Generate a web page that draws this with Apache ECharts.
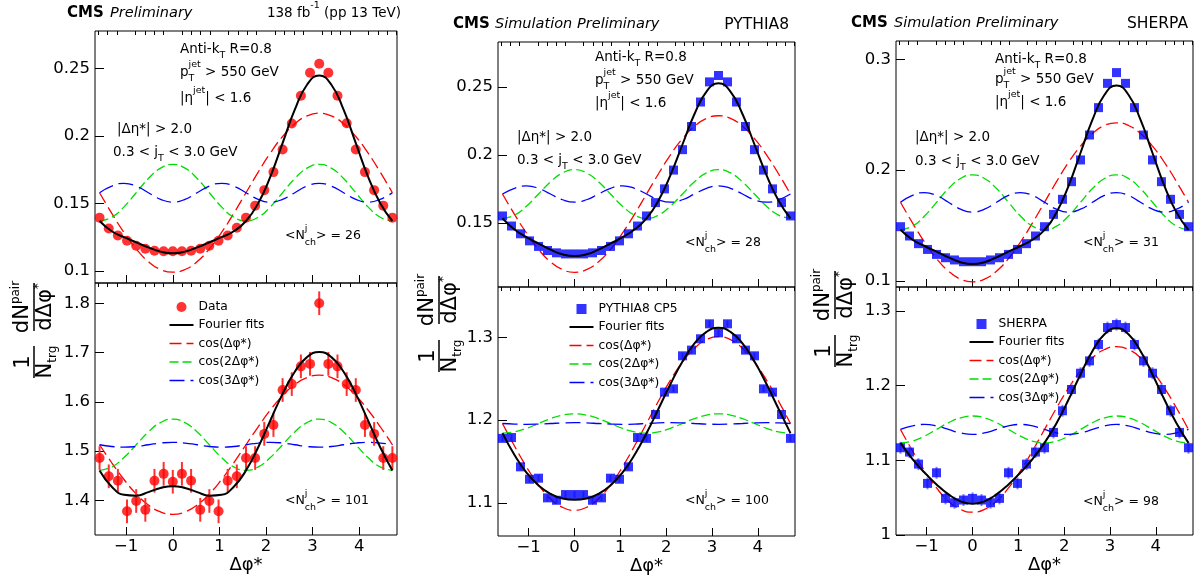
<!DOCTYPE html>
<html>
<head>
<meta charset="utf-8">
<script src="https://cdn.jsdelivr.net/npm/echarts@6/dist/echarts.min.js"></script>
<style>
html, body { margin: 0; padding: 0; background: #fff; }
#main { width: 1200px; height: 580px; }
</style>
</head>
<body>
<div id="main"></div>
<script>
var F = 'DejaVu Sans';

// bin centres k*pi/16, k = -8..24
var phiBins = [-1.571, -1.374, -1.178, -0.982, -0.785, -0.589, -0.393, -0.196, 0, 0.196, 0.393, 0.589, 0.785, 0.982, 1.178, 1.374, 1.571,
    1.767, 1.963, 2.160, 2.356, 2.553, 2.749, 2.945, 3.142, 3.338, 3.534, 3.731, 3.927, 4.123, 4.320, 4.516, 4.712];
// points where the fitted curves are read, k*pi/12, k = -6..18
var phiCurve = [-1.571, -1.309, -1.047, -0.785, -0.524, -0.262, 0, 0.262, 0.524, 0.785, 1.047, 1.309, 1.571,
    1.833, 2.094, 2.356, 2.618, 2.880, 3.142, 3.403, 3.665, 3.927, 4.189, 4.451, 4.712];

var xMajor = [-1, 0, 1, 2, 3, 4];
var xMinor = [-1.6, -1.4, -1.2, -0.8, -0.6, -0.4, -0.2, 0.2, 0.4, 0.6, 0.8, 1.2, 1.4, 1.6, 1.8, 2.2, 2.4, 2.6, 2.8, 3.2, 3.4, 3.6, 3.8, 4.2, 4.4, 4.6, 4.8];

// ---- Data, <N> = 26
var dataTopPts = [0.1395, 0.1315, 0.1263, 0.1223, 0.1186, 0.1164, 0.1149, 0.1146, 0.1146, 0.1146, 0.1149, 0.1164, 0.1186, 0.1223, 0.1263, 0.132, 0.1395,
    0.1484, 0.1599, 0.1733, 0.1901, 0.2093, 0.2299, 0.247, 0.2537, 0.247, 0.2299, 0.2095, 0.1901, 0.1733, 0.1599, 0.1484, 0.1395];
var dataTopFit = [0.137, 0.1294, 0.125, 0.1212, 0.1174, 0.1143, 0.113, 0.1143, 0.1174, 0.1212, 0.125, 0.1294, 0.137,
    0.1502, 0.170, 0.1948, 0.2196, 0.2381, 0.245, 0.2381, 0.2196, 0.1948, 0.170, 0.1502, 0.137];
var dataTopC1 = [0.158, 0.1427, 0.1285, 0.1163, 0.1069, 0.101, 0.099, 0.101, 0.1069, 0.1163, 0.1285, 0.1427, 0.158,
    0.1733, 0.1875, 0.1997, 0.2091, 0.215, 0.217, 0.215, 0.2091, 0.1997, 0.1875, 0.1733, 0.158];
var dataTopC2 = [0.137, 0.1398, 0.1475, 0.158, 0.1685, 0.1762, 0.179, 0.1762, 0.1685, 0.158, 0.1475, 0.1398, 0.137,
    0.1398, 0.1475, 0.158, 0.1685, 0.1762, 0.179, 0.1762, 0.1685, 0.158, 0.1475, 0.1398, 0.137];
var dataTopC3 = [0.158, 0.1629, 0.165, 0.1629, 0.158, 0.1531, 0.151, 0.1531, 0.158, 0.1629, 0.165, 0.1629, 0.158,
    0.1531, 0.151, 0.1531, 0.158, 0.1629, 0.165, 0.1629, 0.158, 0.1531, 0.151, 0.1531, 0.158];

// ---- Data, <N> = 101
var dataBotPts = [1.486, 1.449, 1.440, 1.378, 1.399, 1.381, 1.440, 1.454, 1.438, 1.454, 1.440, 1.381, 1.399, 1.378, 1.440, 1.449, 1.486,
    1.486, 1.535, 1.553, 1.624, 1.636, 1.672, 1.677, 1.800, 1.677, 1.672, 1.636, 1.624, 1.553, 1.535, 1.486, 1.486];
var dataBotErr = 0.024;
var dataBotFit = [1.461, 1.428, 1.4115, 1.4098, 1.4169, 1.4253, 1.429, 1.4253, 1.4169, 1.4098, 1.4115, 1.428, 1.461,
    1.508, 1.5625, 1.6162, 1.6611, 1.6907, 1.701, 1.6907, 1.6611, 1.6162, 1.5625, 1.508, 1.461];
var dataBotC1 = [1.513, 1.4765, 1.4425, 1.4133, 1.3909, 1.3768, 1.372, 1.3768, 1.3909, 1.4133, 1.4425, 1.4765, 1.513,
    1.5495, 1.5835, 1.6127, 1.6351, 1.6492, 1.654, 1.6492, 1.6351, 1.6127, 1.5835, 1.5495, 1.513];
var dataBotC2 = [1.461, 1.468, 1.487, 1.513, 1.539, 1.558, 1.565, 1.558, 1.539, 1.513, 1.487, 1.468, 1.461,
    1.468, 1.487, 1.513, 1.539, 1.558, 1.565, 1.558, 1.539, 1.513, 1.487, 1.468, 1.461];
var dataBotC3 = [1.513, 1.5095, 1.508, 1.5095, 1.513, 1.5165, 1.518, 1.5165, 1.513, 1.5095, 1.508, 1.5095, 1.513,
    1.5165, 1.518, 1.5165, 1.513, 1.5095, 1.508, 1.5095, 1.513, 1.5165, 1.518, 1.5165, 1.513];

// ---- PYTHIA8, <N> = 28
var pyTopPts = [0.1552, 0.1478, 0.1421, 0.1369, 0.1328, 0.1298, 0.1281, 0.1273, 0.1273, 0.1273, 0.1281, 0.1298, 0.1328, 0.1369, 0.1421, 0.1478, 0.1552,
    0.165, 0.1751, 0.1889, 0.2039, 0.2209, 0.2389, 0.2537, 0.2584, 0.2537, 0.2389, 0.2209, 0.2039, 0.1889, 0.1751, 0.165, 0.1552];
var pyTopFit = [0.1534, 0.1452, 0.1396, 0.1349, 0.1305, 0.127, 0.1257, 0.127, 0.1305, 0.1349, 0.1396, 0.1452, 0.1534,
    0.1666, 0.1852, 0.2077, 0.2301, 0.2466, 0.2527, 0.2466, 0.2301, 0.2077, 0.1852, 0.1666, 0.1534];
var pyTopC1 = [0.1713, 0.1564, 0.1426, 0.1307, 0.1215, 0.1158, 0.1138, 0.1158, 0.1215, 0.1307, 0.1426, 0.1564, 0.1713,
    0.1862, 0.2001, 0.212, 0.2211, 0.2269, 0.2288, 0.2269, 0.2211, 0.212, 0.2001, 0.1862, 0.1713];
var pyTopC2 = [0.1534, 0.1558, 0.1624, 0.1713, 0.1803, 0.1868, 0.1892, 0.1868, 0.1803, 0.1713, 0.1624, 0.1558, 0.1534,
    0.1558, 0.1624, 0.1713, 0.1803, 0.1868, 0.1892, 0.1868, 0.1803, 0.1713, 0.1624, 0.1558, 0.1534];
var pyTopC3 = [0.1713, 0.1755, 0.1773, 0.1755, 0.1713, 0.1671, 0.1653, 0.1671, 0.1713, 0.1755, 0.1773, 0.1755, 0.1713,
    0.1671, 0.1653, 0.1671, 0.1713, 0.1755, 0.1773, 0.1755, 0.1713, 0.1671, 0.1653, 0.1671, 0.1713];

// ---- PYTHIA8 CP5, <N> = 100
var pyBotPts = [1.178, 1.179, 1.1436, 1.1286, 1.1299, 1.1061, 1.1032, 1.1101, 1.1101, 1.1101, 1.1032, 1.1061, 1.1299, 1.1286, 1.1436, 1.179, 1.178,
    1.2069, 1.2339, 1.2379, 1.2778, 1.2847, 1.2984, 1.3165, 1.3056, 1.3165, 1.2984, 1.2847, 1.2778, 1.2379, 1.2339, 1.2069, 1.178];
var pyBotErr = 0.004;
var pyBotFit = [1.1843, 1.158, 1.1367, 1.1211, 1.111, 1.1054, 1.1037, 1.1054, 1.111, 1.1211, 1.1367, 1.158, 1.1843,
    1.2138, 1.2437, 1.2709, 1.2928, 1.3068, 1.3117, 1.3068, 1.2928, 1.2709, 1.2437, 1.2138, 1.1843];
var pyBotC1 = [1.196, 1.1688, 1.1435, 1.1218, 1.1051, 1.0946, 1.091, 1.0946, 1.1051, 1.1218, 1.1435, 1.1688, 1.196,
    1.2232, 1.2485, 1.2702, 1.2869, 1.2974, 1.301, 1.2974, 1.2869, 1.2702, 1.2485, 1.2232, 1.196];
var pyBotC2 = [1.1843, 1.1859, 1.1902, 1.196, 1.2019, 1.2061, 1.2077, 1.2061, 1.2019, 1.196, 1.1902, 1.1859, 1.1843,
    1.1859, 1.1902, 1.196, 1.2019, 1.2061, 1.2077, 1.2061, 1.2019, 1.196, 1.1902, 1.1859, 1.1843];
var pyBotC3 = [1.196, 1.1953, 1.195, 1.1953, 1.196, 1.1967, 1.197, 1.1967, 1.196, 1.1953, 1.195, 1.1953, 1.196,
    1.1967, 1.197, 1.1967, 1.196, 1.1953, 1.195, 1.1953, 1.196, 1.1967, 1.197, 1.1967, 1.196];

// ---- SHERPA, <N> = 31
var shTopPts = [0.149, 0.1406, 0.1337, 0.1285, 0.124, 0.121, 0.119, 0.1174, 0.1174, 0.1174, 0.119, 0.121, 0.124, 0.1285, 0.1337, 0.1406, 0.149,
    0.1601, 0.1737, 0.1896, 0.2092, 0.2317, 0.2564, 0.2783, 0.288, 0.2783, 0.2564, 0.2317, 0.2092, 0.1896, 0.1737, 0.1601, 0.149];
var shTopFit = [0.1462, 0.1372, 0.1316, 0.1265, 0.1213, 0.117, 0.1153, 0.117, 0.1213, 0.1265, 0.1316, 0.1372, 0.1462,
    0.1619, 0.1857, 0.2155, 0.2455, 0.268, 0.2763, 0.268, 0.2455, 0.2155, 0.1857, 0.1619, 0.1462];
var shTopC1 = [0.171, 0.1524, 0.1352, 0.1203, 0.1089, 0.1017, 0.0993, 0.1017, 0.1089, 0.1203, 0.1352, 0.1524, 0.171,
    0.1896, 0.2069, 0.2217, 0.2331, 0.2403, 0.2427, 0.2403, 0.2331, 0.2217, 0.2069, 0.1896, 0.171];
var shTopC2 = [0.1462, 0.1495, 0.1586, 0.171, 0.1834, 0.1925, 0.1958, 0.1925, 0.1834, 0.171, 0.1586, 0.1495, 0.1462,
    0.1495, 0.1586, 0.171, 0.1834, 0.1925, 0.1958, 0.1925, 0.1834, 0.171, 0.1586, 0.1495, 0.1462];
var shTopC3 = [0.171, 0.1772, 0.1798, 0.1772, 0.171, 0.1648, 0.1622, 0.1648, 0.171, 0.1772, 0.1798, 0.1772, 0.171,
    0.1648, 0.1622, 0.1648, 0.171, 0.1772, 0.1798, 0.1772, 0.171, 0.1648, 0.1622, 0.1648, 0.171];

// ---- SHERPA, <N> = 98
var shBotPts = [1.1168, 1.111, 1.0949, 1.0691, 1.0833, 1.049, 1.0432, 1.0468, 1.049, 1.0468, 1.0432, 1.049, 1.0833, 1.0691, 1.0949, 1.111, 1.1168,
    1.1373, 1.1663, 1.1948, 1.2166, 1.2331, 1.255, 1.2777, 1.2817, 1.2777, 1.255, 1.2331, 1.2166, 1.1948, 1.1663, 1.1373, 1.1168];
var shBotErr = 0.008;
var shBotFit = [1.1233, 1.1017, 1.0836, 1.0677, 1.0544, 1.0451, 1.0418, 1.0451, 1.0544, 1.0677, 1.0836, 1.1017, 1.1233,
    1.1497, 1.181, 1.2149, 1.2463, 1.2687, 1.2768, 1.2687, 1.2463, 1.2149, 1.181, 1.1497, 1.1233];
var shBotC1 = [1.1413, 1.1126, 1.0859, 1.063, 1.0453, 1.0343, 1.0305, 1.0343, 1.0453, 1.063, 1.0859, 1.1126, 1.1413,
    1.17, 1.1967, 1.2196, 1.2373, 1.2483, 1.2521, 1.2483, 1.2373, 1.2196, 1.1967, 1.17, 1.1413];
var shBotC2 = [1.1233, 1.1257, 1.1323, 1.1413, 1.1503, 1.1569, 1.1593, 1.1569, 1.1503, 1.1413, 1.1323, 1.1257, 1.1233,
    1.1257, 1.1323, 1.1413, 1.1503, 1.1569, 1.1593, 1.1569, 1.1503, 1.1413, 1.1323, 1.1257, 1.1233];
var shBotC3 = [1.1413, 1.146, 1.148, 1.146, 1.1413, 1.1366, 1.1346, 1.1366, 1.1413, 1.146, 1.148, 1.146, 1.1413,
    1.1366, 1.1346, 1.1366, 1.1413, 1.146, 1.148, 1.146, 1.1413, 1.1366, 1.1346, 1.1366, 1.1413];

// y tick labels
var yTicksDataTop = [0.1, 0.15, 0.2, 0.25];
var yTicksDataBot = [1.4, 1.5, 1.6, 1.7, 1.8];
var yTicksPyTop = [0.15, 0.2, 0.25];
var yTicksPyBot = [1.1, 1.2, 1.3];
var yTicksShTop = [0.1, 0.2, 0.3];
var yTicksShBot = [1, 1.1, 1.2, 1.3];

var panels = [
    {mark: 'Data', pts: dataTopPts, err: 0, fit: dataTopFit, c1: dataTopC1, c2: dataTopC2, c3: dataTopC3, yTicks: yTicksDataTop, yMin: 0.091, yMax: 0.278, bottom: false},
    {mark: 'Data', pts: dataBotPts, err: dataBotErr, fit: dataBotFit, c1: dataBotC1, c2: dataBotC2, c3: dataBotC3, yTicks: yTicksDataBot, yMin: 1.330, yMax: 1.841, bottom: true},
    {mark: 'PYTHIA8 CP5', pts: pyTopPts, err: 0, fit: pyTopFit, c1: pyTopC1, c2: pyTopC2, c3: pyTopC3, yTicks: yTicksPyTop, yMin: 0.103, yMax: 0.283, bottom: false},
    {mark: 'PYTHIA8 CP5', pts: pyBotPts, err: pyBotErr, fit: pyBotFit, c1: pyBotC1, c2: pyBotC2, c3: pyBotC3, yTicks: yTicksPyBot, yMin: 1.060, yMax: 1.361, bottom: true},
    {mark: 'SHERPA', pts: shTopPts, err: 0, fit: shTopFit, c1: shTopC1, c2: shTopC2, c3: shTopC3, yTicks: yTicksShTop, yMin: 0.0946, yMax: 0.3165, bottom: false},
    {mark: 'SHERPA', pts: shBotPts, err: shBotErr, fit: shBotFit, c1: shBotC1, c2: shBotC2, c3: shBotC3, yTicks: yTicksShBot, yMin: 1.0, yMax: 1.332, bottom: true}
];
// left, top, width, height
var boxes = [[95, 31, 302, 252], [95, 283, 302, 252], [498, 42, 297, 245], [498, 287, 297, 249], [896, 41, 297, 246], [896, 287, 297, 248]];

var markers = {
    'Data': {symbol: 'circle', size: 10, color: '#ff0000', err: '#ff3030'},
    'PYTHIA8 CP5': {symbol: 'rect', size: 9, color: '#0000ff', err: '#8080ff'},
    'SHERPA': {symbol: 'rect', size: 9, color: '#0000ff', err: '#8080ff'}
};
var RED = '#ff0000', GREEN = '#00dd00', BLUE = '#0000ff';
var DASH1 = [12, 5], DASH2 = [9, 4], DASH3 = [15, 6];

function pairs(xs, ys) {
    return xs.map(function (x, i) { return [x, ys[i]]; });
}

function ext(a, b) {
    var o = {};
    for (var k in a) o[k] = a[k];
    for (var j in b) o[j] = b[j];
    return o;
}

function curve(name, gi, ys, color, type, width, z) {
    return {
        type: 'line', name: name, xAxisIndex: gi, yAxisIndex: gi, z: z, silent: true,
        showSymbol: false, symbol: 'none', smooth: true,
        itemStyle: {color: color},
        lineStyle: {color: color, width: width, type: type},
        data: pairs(phiCurve, ys)
    };
}

function errBars(gi, ys, err, color) {
    return {
        type: 'custom', xAxisIndex: gi, yAxisIndex: gi, z: 3, silent: true,
        encode: {x: 0, y: 1},
        renderItem: function (params, api) {
            var lo = api.coord([api.value(0), api.value(1) - err]);
            var hi = api.coord([api.value(0), api.value(1) + err]);
            return {type: 'line', shape: {x1: lo[0], y1: lo[1], x2: hi[0], y2: hi[1]}, style: {stroke: color, lineWidth: 2}};
        },
        data: pairs(phiBins, ys)
    };
}

var grids = [], xAxes = [], yAxes = [], series = [];
var minorAxes = [];
panels.forEach(function (p, i) {
    var b = boxes[i];
    var m = markers[p.mark];
    grids.push({left: b[0], top: b[1], width: b[2], height: b[3], show: true, borderColor: '#000', borderWidth: 1, backgroundColor: 'transparent'});
    xAxes.push({
        gridIndex: i, type: 'value', min: -1.669, max: 4.811,
        axisLine: {show: false, onZero: false}, splitLine: {show: false},
        axisTick: {show: true, inside: true, length: 8, customValues: xMajor, lineStyle: {color: '#000'}},
        axisLabel: {
            show: p.bottom, customValues: xMajor, margin: 3, color: '#000', fontFamily: F, fontSize: 16.5,
            formatter: function (v) { return v < 0 ? '\u2212' + Math.abs(v) : String(v); }
        },
        name: p.bottom ? 'Δφ*' : '', nameLocation: 'middle', nameGap: 20,
        nameTextStyle: {color: '#000', fontFamily: F, fontSize: 18}
    });
    minorAxes.push({
        gridIndex: i, type: 'value', min: -1.669, max: 4.811,
        axisLine: {show: false, onZero: false}, splitLine: {show: false}, axisLabel: {show: false},
        axisTick: {show: true, inside: true, length: 4, customValues: xMinor, lineStyle: {color: '#000'}}
    });
    yAxes.push({
        gridIndex: i, type: 'value', min: p.yMin, max: p.yMax,
        axisLine: {show: false, onZero: false}, splitLine: {show: false},
        axisTick: {show: true, inside: true, length: 9, customValues: p.yTicks, lineStyle: {color: '#000'}},
        axisLabel: {customValues: p.yTicks, margin: 5, color: '#000', fontFamily: F, fontSize: 16.5}
    });
    series.push(curve('cos(Δφ*)', i, p.c1, RED, DASH1, 1.3, 2));
    series.push(curve('cos(2Δφ*)', i, p.c2, GREEN, DASH2, 1.3, 2));
    series.push(curve('cos(3Δφ*)', i, p.c3, BLUE, DASH3, 1.3, 2));
    if (p.err) series.push(errBars(i, p.pts, p.err, m.err));
    series.push({
        type: 'scatter', name: p.mark, xAxisIndex: i, yAxisIndex: i, z: 4, silent: true,
        symbol: m.symbol, symbolSize: m.size, itemStyle: {color: m.color},
        data: pairs(phiBins, p.pts)
    });
    series.push(curve('Fourier fits', i, p.fit, '#000000', 'solid', 2, 5));
});

var squareIcon = 'path://M7,0L17,0L17,10L7,10Z M0,5L0,5 M24,5L24,5';
var lineIcon = 'path://M0,5L24,5 M0,0L0,0 M24,10L24,10';
function lineItem(name, color, dash, width) {
    return {name: name, icon: lineIcon, itemStyle: {color: 'none', borderColor: color, borderWidth: width, borderType: dash}};
}
function legendFor(left, top, first) {
    return {
        left: left, top: top, orient: 'vertical', padding: 0, itemWidth: 24, itemHeight: 10, itemGap: 3.5,
        selectedMode: false,
        textStyle: {color: '#000', fontFamily: F, fontSize: 12.3, lineHeight: 14},
        data: [first, lineItem('Fourier fits', '#000', 'solid', 2), lineItem('cos(Δφ*)', RED, DASH1, 1.3),
            lineItem('cos(2Δφ*)', GREEN, DASH2, 1.3), lineItem('cos(3Δφ*)', BLUE, DASH3, 1.3)]
    };
}

var RICH = {
    sup: {fontFamily: F, fontSize: 9.5, lineHeight: 10, verticalAlign: 'top'},
    sub: {fontFamily: F, fontSize: 9.5, lineHeight: 10, verticalAlign: 'bottom'},
    supz: {fontFamily: F, fontSize: 9.5, lineHeight: 10, verticalAlign: 'top', width: 0.01},
    subz: {fontFamily: F, fontSize: 9.5, lineHeight: 10, verticalAlign: 'bottom', width: 0.01}
};
var TRICH = {
    tsup: {fontFamily: F, fontSize: 12, lineHeight: 12, verticalAlign: 'top'},
    tsub: {fontFamily: F, fontSize: 12, lineHeight: 12, verticalAlign: 'bottom'}
};

function t(x, y, s, size, extra) {
    var st = {text: s, fill: '#000', fontFamily: F, fontSize: size, lineHeight: 24,
        align: 'left', verticalAlign: 'middle', textAlign: 'left', textVerticalAlign: 'middle', rich: RICH};
    return {type: 'text', x: x, y: y, silent: true, style: ext(st, extra || {})};
}
var R = {align: 'right', textAlign: 'right'};
var B = {fontWeight: 'bold'};
var I = {fontStyle: 'italic'};

function yTitle(x0, yA, yB) {
    var d = yA - yB;
    var big = {fill: '#000', fontFamily: F, fontSize: 21, lineHeight: 26, align: 'center', verticalAlign: 'middle',
        textAlign: 'center', textVerticalAlign: 'middle', rich: TRICH};
    return {
        type: 'group', x: x0, y: yA, rotation: Math.PI / 2, silent: true,
        children: [
            {type: 'text', x: 0, y: -10.5, style: ext(big, {text: '1'})},
            {type: 'line', shape: {x1: -16, y1: 0, x2: 16, y2: 0}, style: {stroke: '#000', lineWidth: 1.5}},
            {type: 'text', x: 0, y: 11.5, style: ext(big, {text: 'N{tsub|trg}'})},
            {type: 'text', x: d, y: -11, style: ext(big, {text: 'dN{tsup|pair}'})},
            {type: 'line', shape: {x1: d - 24, y1: 0, x2: d + 24, y2: 0}, style: {stroke: '#000', lineWidth: 1.5}},
            {type: 'text', x: d, y: 12, style: ext(big, {text: 'dΔφ{tsup|*}'})}
        ]
    };
}

var annot = [
    // headers
    t(67, 13, 'CMS', 15, B), t(110, 13, 'Preliminary', 14.5, I), t(401, 13, '138 fb{sup|-1} (pp 13 TeV)', 13.5, R),
    t(453, 24, 'CMS', 15, B), t(495, 24, 'Simulation', 14.5, I), t(577, 24, 'Preliminary', 14.5, I), t(789, 25, 'PYTHIA8', 15.5, R),
    t(851, 23, 'CMS', 15, B), t(894, 23, 'Simulation', 14.5, I), t(976, 23, 'Preliminary', 14.5, I), t(1188, 24, 'SHERPA', 15.5, R),
    // selection text
    t(180, 49, 'Anti-k{sub|T} R=0.8', 13.5), t(180, 72, 'p{subz|T}{sup|jet} > 550 GeV', 13.5), t(180, 98, '|η{sup|jet}| < 1.6', 13.5),
    t(117, 129, '|Δη*| > 2.0', 13.5), t(113, 152, '0.3 < j{sub|T} < 3.0 GeV', 13.5),
    t(595, 57, 'Anti-k{sub|T} R=0.8', 13.5), t(595, 80, 'p{subz|T}{sup|jet} > 550 GeV', 13.5), t(595, 103, '|η{sup|jet}| < 1.6', 13.5),
    t(517, 137, '|Δη*| > 2.0', 13.5), t(517, 160, '0.3 < j{sub|T} < 3.0 GeV', 13.5),
    t(995, 59, 'Anti-k{sub|T} R=0.8', 13.5), t(995, 79, 'p{subz|T}{sup|jet} > 550 GeV', 13.5), t(995, 102, '|η{sup|jet}| < 1.6', 13.5),
    t(915, 137, '|Δη*| > 2.0', 13.5), t(915, 161, '0.3 < j{sub|T} < 3.0 GeV', 13.5),
    // multiplicities
    t(285, 236, '<N{supz|j}{sub|ch}> = 26', 12.5), t(685, 243, '<N{supz|j}{sub|ch}> = 28', 12.5), t(1083, 243, '<N{supz|j}{sub|ch}> = 31', 12.5),
    t(285, 501, '<N{supz|j}{sub|ch}> = 101', 12.5), t(685, 501, '<N{supz|j}{sub|ch}> = 100', 12.5), t(1083, 502, '<N{supz|j}{sub|ch}> = 98', 12.5),
    // y titles
    yTitle(34, 362, 307), yTitle(439, 356, 300), yTitle(835, 351, 295)
];

var chart = echarts.init(document.getElementById('main'), null, {renderer: 'canvas'});
chart.setOption({
    animation: false,
    backgroundColor: '#fff',
    textStyle: {fontFamily: F},
    grid: grids,
    xAxis: xAxes.concat(minorAxes),
    yAxis: yAxes,
    legend: [
        legendFor(167, 300, 'Data'),
        legendFor(567, 302, {name: 'PYTHIA8 CP5', icon: squareIcon}),
        legendFor(967, 317, {name: 'SHERPA', icon: squareIcon})
    ],
    series: series,
    graphic: annot
});
window.onresize = function () { chart.resize(); };
</script>
</body>
</html>
